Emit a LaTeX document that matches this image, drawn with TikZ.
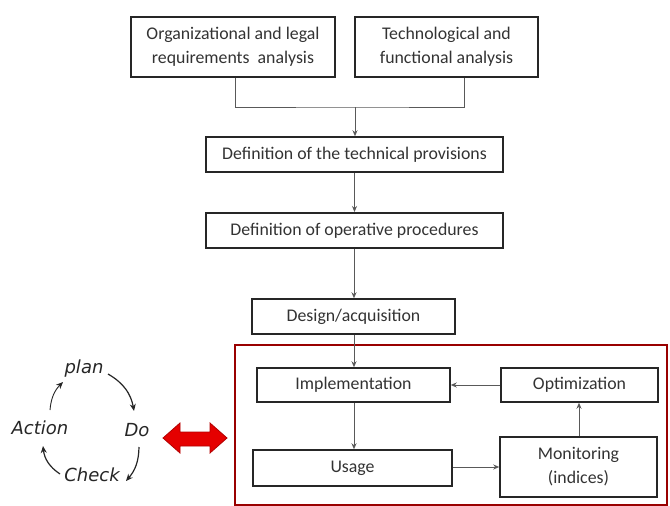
\documentclass[tikz,border=0pt]{standalone}
\usepackage{fontspec}
\setmainfont{Carlito}
\newfontfamily\handfont{DejaVu Sans}
\usetikzlibrary{arrows.meta}
\begin{document}
\begin{tikzpicture}[x=1pt,y=-1pt,
  box/.style={draw=black!85,line width=1.5pt,fill=white,inner sep=0pt,align=center,font=\fontsize{17.8}{24}\selectfont,text=black!80},
  conn/.style={draw=black!65,line width=0.9pt},
  arr/.style={conn,-{Stealth[length=6pt,width=5pt]}},
  hand/.style={font=\handfont\itshape\fontsize{18}{20}\selectfont,text=black!85,inner sep=0pt},
  harr/.style={draw=black!85,line width=1.2pt,-{Stealth[length=7pt,width=6pt]}}]
\useasboundingbox (0,0) rectangle (670,506);
\fill[white] (0,0) rectangle (670,506);
% red frame
\draw[draw=red!60!black,line width=1.4pt] (235,345) rectangle (667,505);
% boxes
\node[box,minimum width=204pt,minimum height=60pt] (org) at (233,47) {Organizational and legal\\requirements\ \ analysis};
\node[box,minimum width=183pt,minimum height=60pt] (tech) at (446.5,47) {Technological and\\functional analysis};
\node[box,minimum width=297pt,minimum height=35pt] (prov) at (354.5,154.5) {Definition of the technical provisions};
\node[box,line width=2pt,minimum width=297pt,minimum height=35pt] (proc) at (354.5,230.5) {Definition of operative procedures};
\node[box,minimum width=203pt,minimum height=35pt] (des) at (353.5,316.5) {Design/acquisition};
\node[box,minimum width=193pt,minimum height=34pt] (impl) at (353.5,385) {Implementation};
\node[box,minimum width=157pt,minimum height=34pt] (opt) at (579.5,385) {Optimization};
\node[box,minimum width=199pt,minimum height=36pt] (use) at (352.5,468) {Usage};
\node[box,minimum width=157pt,minimum height=60pt] (mon) at (578.5,467) {Monitoring\\(indices)};
% connectors
\coordinate (j) at (355,107);
\draw[conn] (org.south -| 235,0) |- (j) -| (tech.south -| 464,0);
\draw[arr] (j) -- (prov.north -| j);
\draw[arr] (prov) -- (proc);
\draw[arr] (proc.south -| 354,0) -- (des.north -| 354,0);
\draw[arr] (des.south -| 354,0) -- (impl.north -| 354,0);
\draw[arr] (impl.south -| 354,0) -- (use.north -| 354,0);
\draw[arr] (opt.west) -- (impl.east);
\draw[arr] (use.east |- 0,467) -- (mon.west |- 0,467);
\draw[arr] (mon.north -| 579,0) -- (opt.south -| 579,0);
% red double arrow
\filldraw[fill=red!90!black,draw=red!70!black,line width=0.8pt]
  (163,438) -- (180,423) -- (180,432) -- (210,432) -- (210,423) -- (227,438)
  -- (210,453) -- (210,446) -- (180,446) -- (180,453) -- cycle;
% PDCA
\node[hand] (plan) at (84,369) {plan};
\node[hand] (do) at (137,430) {Do};
\node[hand] (check) at (92,475) {Check};
\node[hand] (act) at (40,428) {Action};
\draw[harr] (108,374) to[bend left=25] (134,411);
\draw[harr] (139,447) to[bend left=20] (126,481);
\draw[harr] (60,474) to[bend left=25] (43,446);
\draw[harr,line width=0.9pt] (50,410) to[bend left=20] (63,382);
\end{tikzpicture}
\end{document}
